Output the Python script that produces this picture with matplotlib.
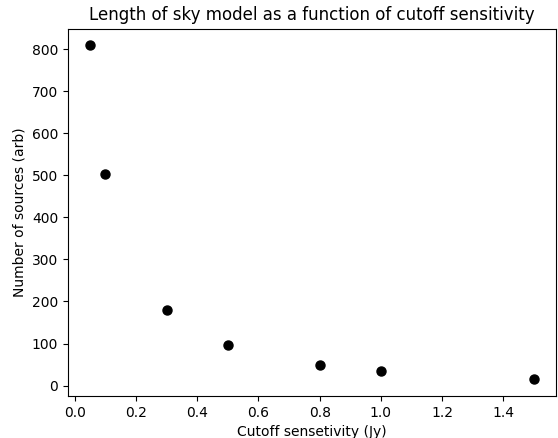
import matplotlib
matplotlib.use("Agg")
import matplotlib.pyplot as plt

cutoffs = [0.05, 0.1, 0.3, 0.5, 0.8, 1.0, 1.5]
nSources = [809, 502, 180, 96, 49, 34, 15]

fig = plt.figure(figsize=(5.58, 4.38), dpi=100)
ax = fig.add_axes([0.1219, 0.0959, 0.8745, 0.8386])

ax.plot(cutoffs, nSources, "ko", markersize=6.5)
ax.set_title("Length of sky model as a function of cutoff sensitivity")
ax.set_xlabel("Cutoff sensetivity (Jy)")
ax.set_ylabel("Number of sources (arb)")

fig.savefig("out.png", dpi=100)
